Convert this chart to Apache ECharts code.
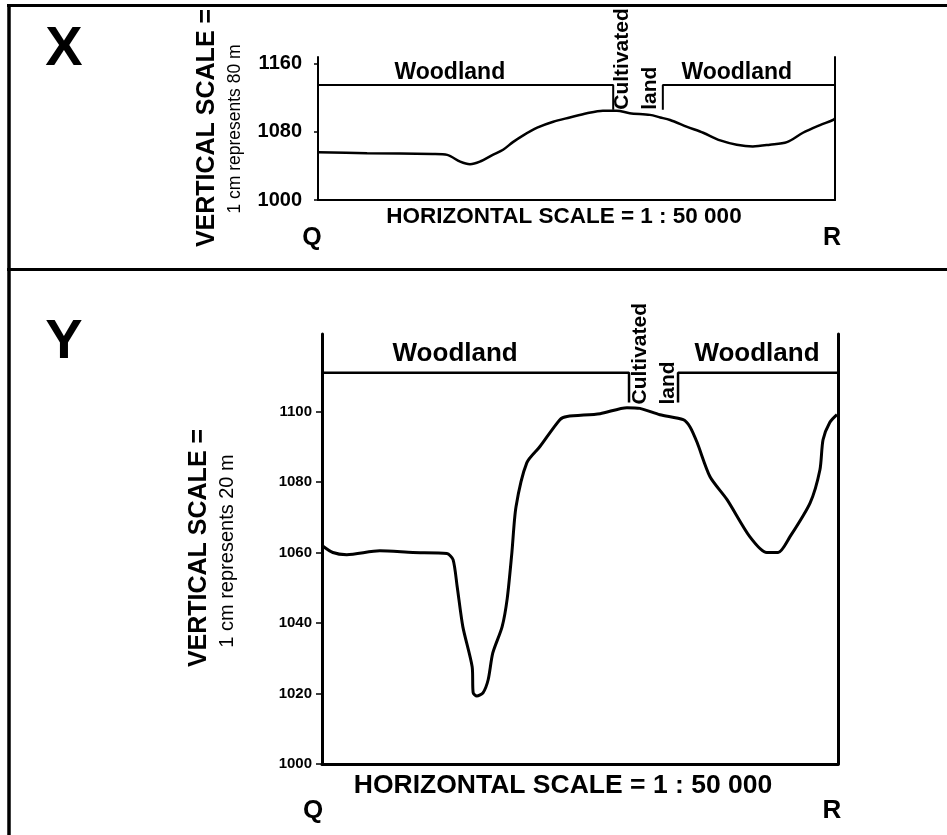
<!DOCTYPE html>
<html>
<head>
<meta charset="utf-8">
<script src="https://cdn.jsdelivr.net/npm/echarts@6/dist/echarts.min.js"></script>
<style>
html,body{margin:0;padding:0;background:#fff;}
#chart{width:947px;height:835px;}
</style>
</head>
<body>
<div id="chart"></div>
<script>
// ---------- DATA ----------
// Profile X (vertical scale 1 cm = 80 m), distance Q->R as % of section
const xDist = [0, 9.5, 22.2, 25, 27.5, 29.4, 31.3, 33.8, 35.8, 37.7, 39.7, 42.4, 45.5, 48.7, 52, 55.1, 57.8, 60.3, 64.2, 66.2, 68.1, 71.4, 74.5, 77.8, 81, 84.1, 87.4, 90.7, 93.8, 97.1, 99.6, 100];
const xElev = [1056, 1055, 1054, 1053, 1045, 1042, 1045, 1053, 1059, 1068, 1076, 1085, 1092, 1097, 1102, 1105, 1105, 1102, 1100, 1097, 1094, 1086, 1079, 1070, 1065, 1063, 1065, 1068, 1079, 1088, 1094, 1096];
const xTicks = [1000, 1080, 1160];

// Profile Y (vertical scale 1 cm = 20 m)
const yDist = [0, 2.1, 4.8, 11.2, 17.6, 24.2, 25.4, 26.2, 27.3, 29.1, 29.3, 30.0, 31.2, 32.2, 33.1, 34.9, 35.9, 36.8, 37.6, 39.7, 42.2, 46.1, 47.5, 53.9, 59.1, 61.6, 65.5, 70, 71.3, 72.7, 75.2, 78.5, 82.9, 86.2, 88.4, 90.7, 94.6, 96.5, 97.1, 98.4, 99.8];
const yElev = [1062, 1060, 1059.4, 1060.5, 1060, 1059.7, 1058, 1050.3, 1038.9, 1027.6, 1020.2, 1019.3, 1020.2, 1023.9, 1031.5, 1038.9, 1047, 1060, 1073, 1085.5, 1090, 1097.7, 1098.6, 1099.4, 1101.1, 1100.9, 1099.1, 1097.7, 1095.7, 1091.2, 1081.5, 1075, 1064.5, 1060, 1060, 1064.5, 1074.1, 1083.5, 1092, 1096.9, 1099.1];
const yTicks = [1000, 1020, 1040, 1060, 1080, 1100];

// Land use strips: [boundary distances], strip level, notch level
const xLandBounds = [57.1, 66.7];
const xLandLevel = [1135, 1106];
const yLandBounds = [59.5, 69.0];
const yLandLevel = [1111, 1102.6];

// Land use labels (text, distance, elevation anchor)
const landNames = ['Woodland', 'Cultivated', 'land', 'Woodland'];
const xLabelDist = [25.5, 58.8, 64.2, 81];
const xLabelElev = [1150, 1106, 1106, 1150];
const yLabelDist = [25.8, 61.6, 67.1, 84.3];
const yLabelElev = [1116.5, 1102, 1102, 1116.5];
const labelRot = [0, 90, 90, 0];

// ---------- CHART ----------
const FONT = 'Liberation Sans, Arial, sans-serif';
const chart = echarts.init(document.getElementById('chart'), null, {renderer: 'canvas'});

function pairs(a, b) { return a.map((v, i) => [v, b[i]]); }

function landSeries(bounds, lv, gi, w) {
  const left = [[0, lv[0]], [bounds[0], lv[0]], [bounds[0], lv[1]]];
  const right = [[bounds[1], lv[1]], [bounds[1], lv[0]], [100, lv[0]]];
  return [left, right].map(d => ({
    type: 'line', xAxisIndex: gi, yAxisIndex: gi * 2, data: d, symbol: 'none',
    lineStyle: {color: '#000', width: w}, silent: true, z: 3
  }));
}

function labelSeries(dist, elev, gi, size, rsize) {
  return {
    type: 'scatter', xAxisIndex: gi, yAxisIndex: gi * 2, symbolSize: 0, silent: true,
    itemStyle: {opacity: 1},
    data: landNames.map((n, i) => ({
      value: [dist[i], elev[i]], name: n,
      label: {
        show: true, formatter: n, rotate: labelRot[i],
        position: 'inside',
        align: labelRot[i] ? 'left' : 'center',
        verticalAlign: 'middle',
        fontFamily: FONT, fontWeight: 'bold', fontSize: labelRot[i] ? rsize : size, color: '#000', opacity: 1
      }
    }))
  };
}

function yAx(gi, min, max, ticks, fs, lw, margin, tickLen) {
  return [{
    type: 'value', gridIndex: gi, min: min, max: max, position: 'left',
    axisLine: {show: true, onZero: false, lineStyle: {color: '#000', width: lw}},
    axisTick: {show: true, customValues: ticks, length: tickLen, lineStyle: {color: '#000', width: 1.5}},
    axisLabel: {show: true, customValues: ticks, margin: margin, formatter: v => String(v),
      fontFamily: FONT, fontWeight: 'bold', fontSize: fs, color: '#000'},
    splitLine: {show: false}
  }, {
    type: 'value', gridIndex: gi, min: min, max: max, position: 'right',
    axisLine: {show: true, onZero: false, lineStyle: {color: '#000', width: lw}},
    axisTick: {show: false}, axisLabel: {show: false}, splitLine: {show: false}
  }];
}

function xAx(gi, lw) {
  return {
    type: 'value', gridIndex: gi, min: 0, max: 100,
    axisLine: {show: true, onZero: false, lineStyle: {color: '#000', width: lw}},
    axisTick: {show: false}, axisLabel: {show: false}, splitLine: {show: false}
  };
}

function txt(text, x, y, size, opts) {
  opts = opts || {};
  return {
    type: 'text', x: x, y: y, rotation: opts.rot || 0, silent: true,
    style: {text: text, fill: '#000', font: (opts.bold === false ? 'normal ' : 'bold ') + size + 'px ' + FONT,
      align: 'center', verticalAlign: 'middle'}
  };
}
function hline(x1, x2, y, w) { return {type: 'line', silent: true, shape: {x1: x1, y1: y, x2: x2, y2: y}, style: {stroke: '#000', lineWidth: w}}; }
function vline(x, y1, y2, w) { return {type: 'line', silent: true, shape: {x1: x, y1: y1, x2: x, y2: y2}, style: {stroke: '#000', lineWidth: w}}; }

const option = {
  animation: false,
  backgroundColor: '#fff',
  grid: [
    {left: 318, top: 57, width: 517, height: 143},
    {left: 322, top: 334, width: 516, height: 430}
  ],
  xAxis: [xAx(0, 2), xAx(1, 3)],
  yAxis: [].concat(yAx(0, 1000, 1168, xTicks, 20, 2, 16, 4), yAx(1, 1000, 1122, yTicks, 15, 3, 10, 6)),
  series: [
    {type: 'line', xAxisIndex: 0, yAxisIndex: 0, data: pairs(xDist, xElev), symbol: 'none', smooth: 0.3,
      lineStyle: {color: '#000', width: 2.5}, z: 4},
    {type: 'line', xAxisIndex: 1, yAxisIndex: 2, data: pairs(yDist, yElev), symbol: 'none', smooth: 0.25,
      lineStyle: {color: '#000', width: 3}, z: 4}
  ].concat(landSeries(xLandBounds, xLandLevel, 0, 2), landSeries(yLandBounds, yLandLevel, 1, 2.5),
    [labelSeries(xLabelDist, xLabelElev, 0, 23, 21), labelSeries(yLabelDist, yLabelElev, 1, 26, 21)]),
  graphic: [
    hline(7, 947, 5.5, 3),
    vline(9, 4, 835, 3.5),
    hline(7, 947, 269.5, 3),
    txt('X', 64, 50, 56),
    txt('Y', 64, 343, 56),
    txt('VERTICAL SCALE =', 207, 128, 25, {rot: Math.PI / 2}),
    txt('1 cm represents 80 m', 235, 129, 17.5, {rot: Math.PI / 2, bold: false}),
    txt('VERTICAL SCALE =', 199, 548, 25, {rot: Math.PI / 2}),
    txt('1 cm represents 20 m', 227, 551, 20, {rot: Math.PI / 2, bold: false}),
    txt('HORIZONTAL SCALE = 1 : 50 000', 564, 217, 22.5),
    txt('HORIZONTAL SCALE = 1 : 50 000', 563, 786, 26.5),
    txt('Q', 312, 238, 25),
    txt('R', 832, 238, 25),
    txt('Q', 313, 811, 26),
    txt('R', 832, 811, 26)
  ]
};
chart.setOption(option);
</script>
</body>
</html>
